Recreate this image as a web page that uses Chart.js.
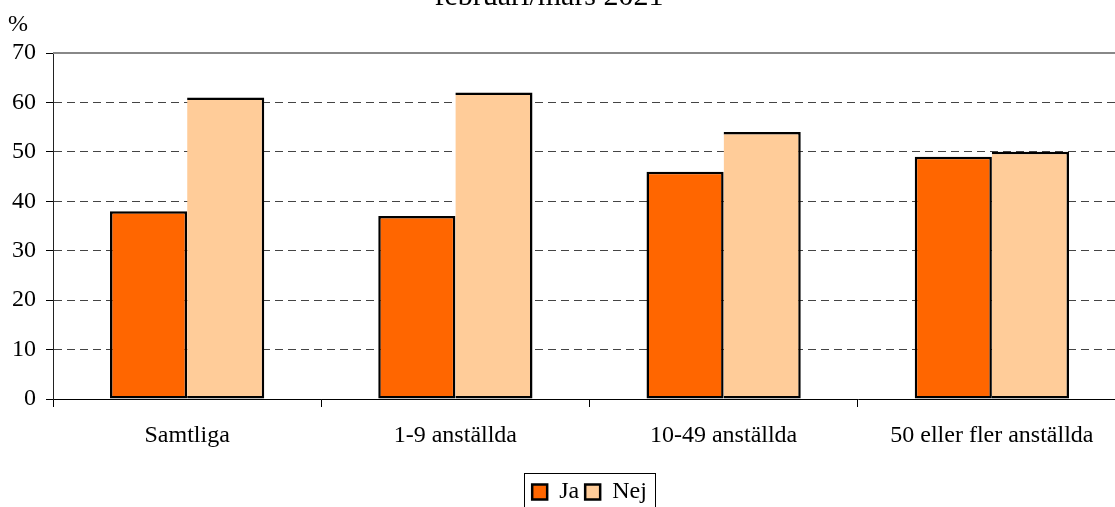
<!DOCTYPE html>
<html>
<head>
<meta charset="utf-8">
<script src="https://cdn.jsdelivr.net/npm/chart.js@4/dist/chart.umd.min.js"></script>
<style>
  html, body { margin: 0; padding: 0; overflow: hidden; background: #fff; }
  #wrap { width: 1115px; height: 507px; overflow: hidden; }
</style>
</head>
<body>
<div id="wrap"><canvas id="chart" width="1130" height="507"></canvas></div>
<script>
const categories = ['Samtliga', '1-9 anställda', '10-49 anställda', '50 eller fler anställda'];
const jaValues = [38, 37, 46, 49];
const nejValues = [61, 62, 54, 50];
const yTicks = [0, 10, 20, 30, 40, 50, 60, 70];

const serif = '"Liberation Serif", "Times New Roman", serif';

// draws the cut-off title, the % label, a solid top line and a box round the legend
const extras = {
    id: 'extras',
    afterDraw(chart) {
        const ctx = chart.ctx;
        const area = chart.chartArea;
        ctx.save();
        ctx.fillStyle = '#000';
        ctx.font = '30px ' + serif;
        ctx.textAlign = 'center';
        ctx.textBaseline = 'alphabetic';
        ctx.fillText('februari/mars 2021', 549, 5);
        ctx.font = '24px ' + serif;
        ctx.textAlign = 'left';
        ctx.fillText('%', 8, 31);

        ctx.strokeStyle = '#888';
        ctx.lineWidth = 2;
        ctx.beginPath();
        ctx.moveTo(area.left, area.top);
        ctx.lineTo(area.right, area.top);
        ctx.stroke();

        const boxes = chart.legend.legendHitBoxes;
        if (boxes && boxes.length) {
            const first = boxes[0];
            const last = boxes[boxes.length - 1];
            const left = Math.round(first.left) - 7.5;
            const right = Math.round(last.left + last.width) + 8.5;
            const top = Math.round(first.top) - 6.5;
            ctx.strokeStyle = '#000';
            ctx.lineWidth = 1;
            ctx.strokeRect(left, top, right - left, 45);
        }
        ctx.restore();
    }
};

const chart = new Chart(document.getElementById('chart').getContext('2d'), {
    type: 'bar',
    data: {
        labels: categories,
        datasets: [{
            label: 'Ja',
            data: jaValues,
            backgroundColor: '#FF6600',
            borderColor: '#000',
            borderWidth: 2.5,
            borderSkipped: false
        }, {
            label: 'Nej',
            data: nejValues,
            backgroundColor: '#FFCC99',
            borderColor: '#000',
            borderWidth: 2.5,
            borderSkipped: 'left'
        }]
    },
    options: {
        responsive: false,
        animation: false,
        layout: { padding: { top: 53, right: 4, left: 0, bottom: -7 } },
        datasets: { bar: { categoryPercentage: 0.575, barPercentage: 1 } },
        scales: {
            x: {
                grid: { drawOnChartArea: false, drawTicks: true, tickLength: 8, color: '#000', offset: true },
                border: { color: '#000', width: 1 },
                ticks: { color: '#000', font: { family: serif, size: 24 }, padding: 14, maxRotation: 0 },
                afterFit(scale) { scale.height = 75; }
            },
            y: {
                min: 0,
                max: 70,
                afterBuildTicks(scale) { scale.ticks = yTicks.map(v => ({ value: v })); },
                grid: { color: '#444', lineWidth: 1, tickLength: 7, tickColor: '#000', drawTicks: true },
                border: { color: '#222', width: 1, dash: [8, 5] },
                ticks: { color: '#000', font: { family: serif, size: 24 }, padding: 10 },
                afterFit(scale) { scale.width = 53; }
            }
        },
        plugins: {
            legend: {
                position: 'bottom',
                fullSize: false,
                labels: {
                    color: '#000',
                    font: { family: serif, size: 24 },
                    boxWidth: 15,
                    boxHeight: 15,
                    padding: 6
                }
            },
            tooltip: { enabled: false }
        }
    },
    plugins: [extras]
});
</script>
</body>
</html>
